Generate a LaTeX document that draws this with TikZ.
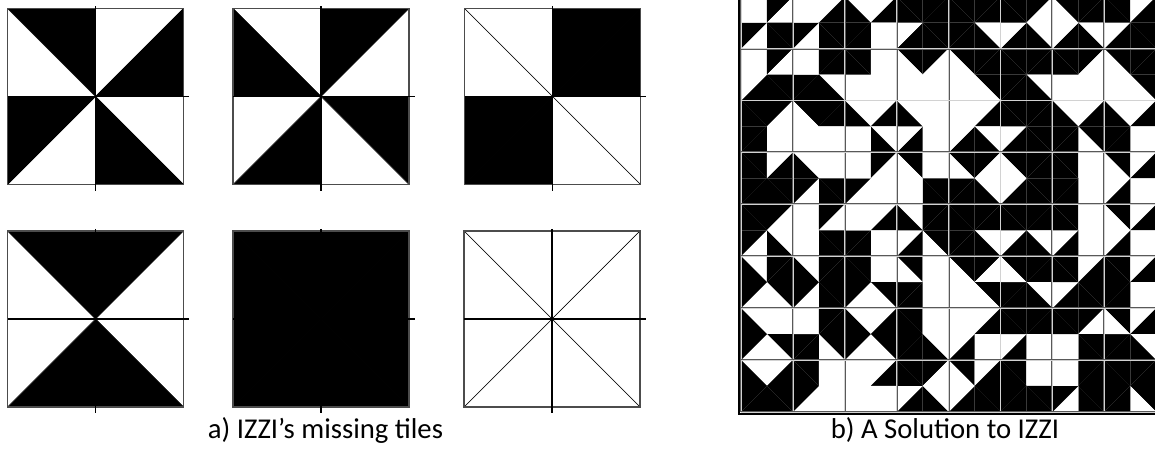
\documentclass[tikz,border=0pt]{standalone}
\usepackage{fontspec}
\setmainfont{Carlito}
\tikzstyle{tri}=[draw=black, line width=0.6pt, line join=round]
\tikzstyle{frame}=[draw=black!70, line width=1.4pt]
\tikzstyle{midline}=[draw=black, line width=1.3pt]
\tikzstyle{seam}=[draw=gray!70!black, double=gray!35, double distance=0.7pt, line width=0.6pt]
\tikzstyle{caption}=[font=\fontsize{28.7}{34}\selectfont, anchor=base, inner sep=0]
\newcommand{\bigtile}[9]{%
\begin{scope}[shift={#1}, scale=176]
\filldraw[tri, fill=#2] (0,0)--(.5,0)--(.5,.5)--cycle;
\filldraw[tri, fill=#3] (.5,0)--(1,0)--(.5,.5)--cycle;
\filldraw[tri, fill=#4] (1,0)--(1,.5)--(.5,.5)--cycle;
\filldraw[tri, fill=#5] (1,.5)--(1,1)--(.5,.5)--cycle;
\filldraw[tri, fill=#6] (1,1)--(.5,1)--(.5,.5)--cycle;
\filldraw[tri, fill=#7] (.5,1)--(0,1)--(.5,.5)--cycle;
\filldraw[tri, fill=#8] (0,1)--(0,.5)--(.5,.5)--cycle;
\filldraw[tri, fill=#9] (0,.5)--(0,0)--(.5,.5)--cycle;
\draw[frame] (0,0) rectangle (1,1);
\draw[midline] (.5,-.012)--(.5,1.035);
\draw[midline] (0,.5)--(1.032,.5);
\end{scope}}
\newcommand{\smalltile}[9]{%
\begin{scope}[shift={#1}, scale=51.9]
\fill[#2] (0,0)--(.5,0)--(.5,.5)--cycle;
\fill[#3] (.5,0)--(1,0)--(.5,.5)--cycle;
\fill[#4] (1,0)--(1,.5)--(.5,.5)--cycle;
\fill[#5] (1,.5)--(1,1)--(.5,.5)--cycle;
\fill[#6] (1,1)--(.5,1)--(.5,.5)--cycle;
\fill[#7] (.5,1)--(0,1)--(.5,.5)--cycle;
\fill[#8] (0,1)--(0,.5)--(.5,.5)--cycle;
\fill[#9] (0,.5)--(0,0)--(.5,.5)--cycle;
\end{scope}}
\colorlet{K}{black}
\colorlet{W}{white}
\begin{document}
\begin{tikzpicture}[x=1pt, y=-1pt]
\useasboundingbox (0,0) rectangle (1155,452);
\fill[white] (0,0) rectangle (1155,452);
% the six missing tiles
\bigtile{(7.5,8.5)}{K}{W}{K}{W}{K}{W}{K}{W}
\bigtile{(233,8.5)}{W}{K}{W}{K}{W}{K}{W}{K}
\bigtile{(464.5,8.5)}{W}{K}{K}{W}{W}{K}{K}{W}
\bigtile{(7.5,231)}{K}{K}{W}{W}{K}{K}{W}{W}
\bigtile{(233,231)}{K}{K}{K}{K}{K}{K}{K}{K}
\bigtile{(464,231)}{W}{W}{W}{W}{W}{W}{W}{W}
% the solution, 8 x 8 tiles: row/col/TL/TR/RT/RB/BR/BL/LB/LT
\begin{scope}
\clip (736,0) rectangle (1155,420);
\foreach \row/\col/\ta/\tb/\tc/\td/\te/\tf/\tg/\th in {
  0/0/W/K/W/K/K/W/K/W, 0/1/W/W/K/K/K/W/K/W, 0/2/W/W/K/W/W/K/K/K, 0/3/K/K/K/K/K/K/W/K,
  0/4/K/K/K/W/K/K/K/K, 0/5/K/K/W/W/K/K/W/K, 0/6/K/K/K/W/K/K/W/W, 0/7/K/W/K/K/K/K/W/K,
  1/0/W/K/W/K/K/K/W/W, 1/1/W/K/K/W/K/K/K/W, 1/2/K/W/W/W/W/W/W/K, 1/3/K/K/W/W/W/W/W/W,
  1/4/K/K/K/K/W/W/W/W, 1/5/K/K/K/W/K/K/K/K, 1/6/K/K/W/W/W/W/W/K, 1/7/K/K/K/K/W/W/W/W,
  2/0/K/K/W/W/W/K/K/K, 2/1/K/K/K/W/W/W/W/W, 2/2/W/W/K/W/K/W/W/K, 2/3/W/W/W/W/W/K/W/K,
  2/4/W/W/K/W/K/K/W/W, 2/5/K/K/K/K/K/K/W/K, 2/6/W/W/K/K/W/K/K/K, 2/7/W/W/K/W/W/K/K/K,
  3/0/K/W/K/K/K/K/K/K, 3/1/W/W/W/K/K/W/K/K, 3/2/W/K/W/W/W/W/K/W, 3/3/K/W/W/K/K/W/W/W,
  3/4/K/K/W/W/K/K/K/W, 3/5/K/K/K/K/K/K/W/W, 3/6/K/W/W/W/W/K/K/K, 3/7/K/W/K/W/W/K/W/W,
  4/0/K/K/W/W/K/W/K/K, 4/1/W/K/W/K/K/W/W/W, 4/2/W/W/K/W/W/K/K/W, 4/3/W/K/K/K/W/K/W/K,
  4/4/K/K/K/W/K/K/K/K, 4/5/K/K/K/W/K/K/W/K, 4/6/K/W/W/W/W/K/W/K, 4/7/K/W/K/W/W/K/W/W,
  5/0/W/K/K/K/W/W/K/K, 5/1/W/K/K/K/K/W/K/K, 5/2/K/W/W/K/W/W/K/K, 5/3/K/W/W/W/W/K/K/W,
  5/4/K/K/W/K/W/W/W/W, 5/5/K/K/K/W/K/K/K/W, 5/6/K/W/K/K/K/K/W/K, 5/7/K/W/K/W/W/K/K/K,
  6/0/W/W/W/K/W/W/K/K, 6/1/W/K/K/K/W/K/K/W, 6/2/W/W/K/K/W/W/K/K, 6/3/K/W/W/W/K/K/K/K,
  6/4/W/W/K/W/W/K/W/W, 6/5/K/K/K/W/W/K/W/K, 6/6/K/K/W/K/K/W/W/K, 6/7/K/W/K/W/K/K/K/W,
  7/0/W/W/K/K/K/K/K/K, 7/1/K/W/W/W/W/W/K/K, 7/2/W/W/K/W/W/W/W/W, 7/3/K/K/W/W/K/K/W/K,
  7/4/K/W/K/K/K/K/W/W, 7/5/K/W/W/K/K/K/K/K, 7/6/W/K/K/K/K/W/K/W, 7/7/K/K/K/K/W/K/K/K}
  \smalltile{(741+51.9*\col,-3.3+51.9*\row)}{\ta}{\tb}{\tc}{\td}{\te}{\tf}{\tg}{\th};
\foreach \k in {0,...,8}
  \draw[seam] (741+51.9*\k,-6)--(741+51.9*\k,411.9);
\foreach \k in {0,...,8}
  \draw[seam] (741,-3.3+51.9*\k)--(1160,-3.3+51.9*\k);
\draw[line width=1.3pt] (739,-6)--(739,414)--(1160,414);
\end{scope}
\node[caption] (capa) at (325.5,438) {a) IZZI’s missing tiles};
\node[caption] (capb) at (945,438) {b) A Solution to IZZI};
\end{tikzpicture}
\end{document}
